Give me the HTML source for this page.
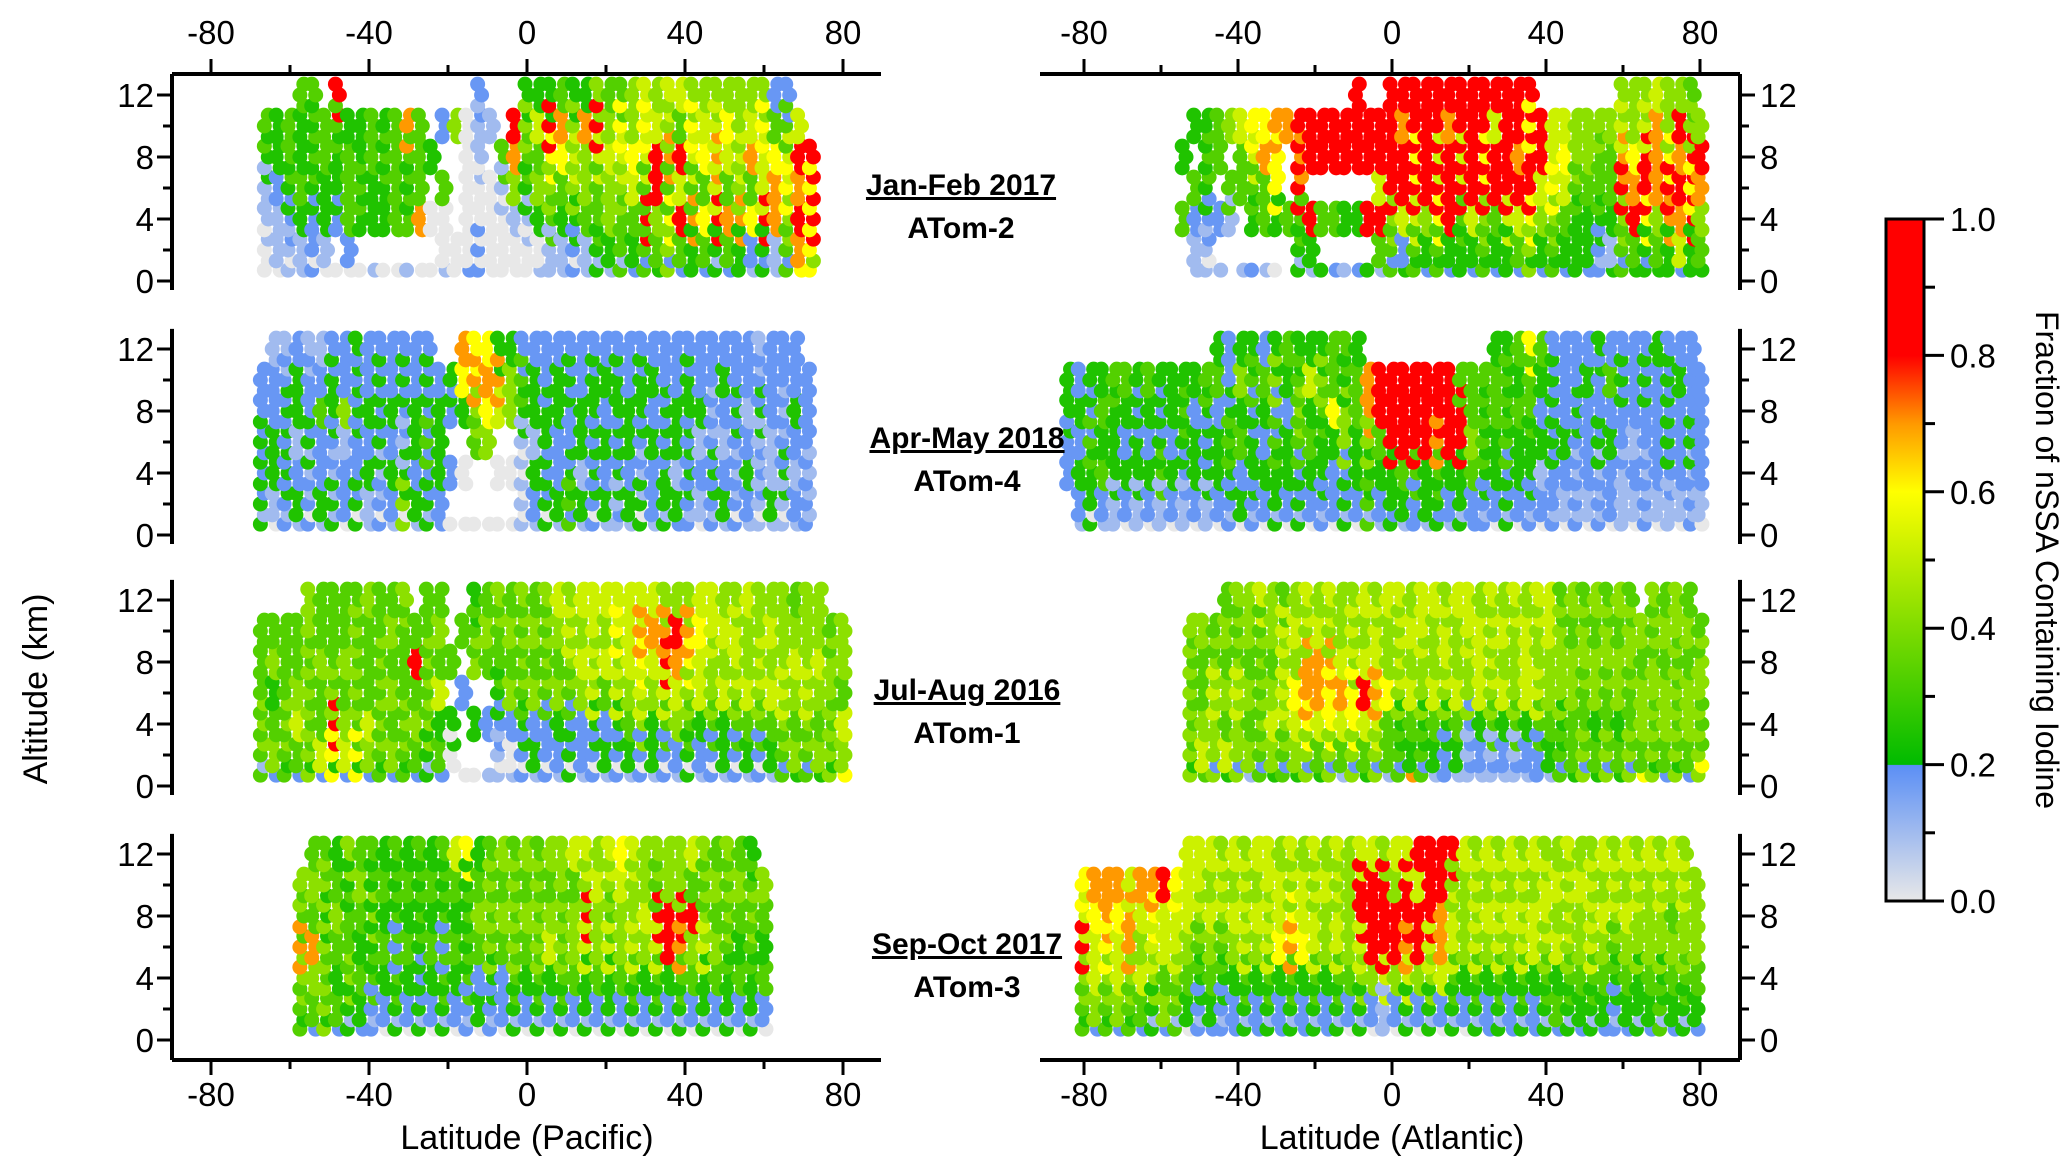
<!DOCTYPE html>
<html><head><meta charset="utf-8">
<style>
html,body{margin:0;padding:0;background:#fff;}
svg{display:block;font-family:"Liberation Sans",Arial,sans-serif;}
</style></head>
<body>
<svg id="chart" width="2067" height="1173" viewBox="0 0 2067 1173" xmlns="http://www.w3.org/2000/svg">
<defs>
<linearGradient id="cbgrad" x1="0" y1="1" x2="0" y2="0">
<stop offset="0" stop-color="#e8e8e8"/>
<stop offset="0.199" stop-color="#5b8ff5"/>
<stop offset="0.2" stop-color="#00bb00"/>
<stop offset="0.4" stop-color="#7fdc00"/>
<stop offset="0.6" stop-color="#ffff00"/>
<stop offset="0.7" stop-color="#ff9900"/>
<stop offset="0.8" stop-color="#ff0000"/>
<stop offset="1" stop-color="#ff0000"/>
</linearGradient>
</defs>
<g id="points"></g>
<g id="axes"></g>
<g id="annots">
<text x="961" y="195" text-anchor="middle" font-size="30" font-weight="bold" text-decoration="underline">Jan-Feb 2017</text>
<text x="961" y="238" text-anchor="middle" font-size="30" font-weight="bold">ATom-2</text>
<text x="967" y="448" text-anchor="middle" font-size="30" font-weight="bold" text-decoration="underline">Apr-May 2018</text>
<text x="967" y="491" text-anchor="middle" font-size="30" font-weight="bold">ATom-4</text>
<text x="967" y="700" text-anchor="middle" font-size="30" font-weight="bold" text-decoration="underline">Jul-Aug 2016</text>
<text x="967" y="743" text-anchor="middle" font-size="30" font-weight="bold">ATom-1</text>
<text x="967" y="954" text-anchor="middle" font-size="30" font-weight="bold" text-decoration="underline">Sep-Oct 2017</text>
<text x="967" y="997" text-anchor="middle" font-size="30" font-weight="bold">ATom-3</text>
</g>
<text x="0" y="0" transform="translate(47,689) rotate(-90)" text-anchor="middle" font-size="34">Altitude (km)</text>
<text x="527" y="1149" text-anchor="middle" font-size="34">Latitude (Pacific)</text>
<text x="1392" y="1149" text-anchor="middle" font-size="34">Latitude (Atlantic)</text>
<g id="colorbar">
<rect x="1886" y="219" width="38" height="682" fill="url(#cbgrad)" stroke="#000" stroke-width="3"/>
</g>
<text x="0" y="0" transform="translate(2036,560) rotate(90)" text-anchor="middle" font-size="32">Fraction of nSSA Containing Iodine</text>
</svg>
<script>
// Decoding of value codes to iodine fraction
const codeFrac = [0,0.1,0.18,0.25,0.33,0.42,0.52,0.6,0.7,0.9];
const altBins = [0,2,4,6,8,10,12];
const xTicks = [-80,-60,-40,-20,0,20,40,60,80];
const xTickLabels = ["-80","-40","0","40","80"];
const yTicks = [0,2,4,6,8,10,12];
const yTickLabels = ["0","4","8","12"];
const cbTicks = [0,0.1,0.2,0.3,0.4,0.5,0.6,0.7,0.8,0.9,1.0];
const cbTickLabels = ["0.0","0.2","0.4","0.6","0.8","1.0"];

const pacJanLat = [-66,-63,-60,-57,-54,-51,-48,-45,-42,-39,-36,-33,-30,-27,-24,-21,-18,-15,-12,-9,-6,-3,0,3,6,9,12,15,18,21,24,27,30,33,36,39,42,45,48,51,54,57,60,63,66,69,72];
const pacJanVal = ["001134.","011233.","012344.","1134334","0223434","013344.","0.23349","024443.","0.3433.","1.3344.","0.3343.","0.4444.","1.4348.","0.8444.","0.0.3..","1004.2.","00...5.","200000.","0200112","0000.1.","00014..","001589.","0013453","1035463","1145793","1134784","0235653","1145583","1344695","1355654","1445674","2346755","2494676","3459965","2574856","2496946","3384675","2474765","1396865","2484675","3385655","1274865","2396675","1188742","2457642","789896.","57979.."];
const atlJanLat = [-54,-51,-48,-45,-42,-39,-36,-33,-30,-27,-24,-21,-18,-15,-12,-9,-6,-3,0,3,6,9,12,15,18,21,24,27,30,33,36,39,42,45,48,51,54,57,60,63,66,69,72,75,78,80];
const atlJanVal = ["..4.3..","1124.3.","012343.","1.2.44.","..14.5.","1..446.","2.3467.","1.4487.","0.3778.","..4..8.","134989.","139.99.","3.4.99.","2.4.99.","1.3.99.","2.3.999","3.9.99.","149699.","2459999","3269989","3469799","2359999","3479699","2399989","3349699","2369999","3459799","2349969","3369999","2469899","3579979","235699.","345766.","234676.","333455.","233455.","123445.","313445.","2459865","3498755","2379965","3458886","3389755","2689895","3397954","345895."];
const pacAprLat = [-67,-64,-61,-58,-55,-52,-49,-46,-43,-40,-37,-34,-31,-28,-25,-22,-19,-16,-13,-10,-7,-4,-1,2,5,8,11,14,17,20,23,26,29,32,35,38,41,44,47,50,53,56,59,62,65,68,71];
const pacAprVal = ["132322.","0133221","1232321","1321332","0213221","1322421","1312332","0221522","0322323","1132322","0213232","1232322","0531232","1323322","1324232","223332.","0.2.23.","0.0.378","0..4587","0..5787","0.0.683","0.0.553","0101342","1231332","0323322","1322332","2432232","1313322","0232332","1323232","2132332","1323322","0312332","1223232","1332322","2313322","1232332","0121322","1232122","1321232","0212322","1232122","0121321","1311222","0132122","1212322","121222."];
const atlAprLat = [-84,-81,-78,-75,-72,-69,-66,-63,-60,-57,-54,-51,-48,-45,-42,-39,-36,-33,-30,-27,-24,-21,-18,-15,-12,-9,-6,-3,0,3,6,9,12,15,18,21,24,27,30,33,36,39,42,45,48,51,54,57,60,63,66,69,72,75,78,80];
const atlAprVal = ["..2233.","123232.","033423.","124343.","113334.","023234.","113323.","023234.","114323.","023233.","112343.","023323.","113234.","0233243","1234322","0324353","1233243","0232342","1334253","0233234","1324543","0234363","1233453","0223744","1325534","0233443","143588.","123499.","233999.","134999.","224999.","133999.","234899.","123999.","133994.","224544.","123434.","0233443","1324343","0233434","1233447","0213234","1223232","0123222","1212322","0122232","1213223","0223242","1112232","0121222","1212232","0122223","1123232","0122232","1213222","012222."];
const pacJulLat = [-67,-64,-61,-58,-55,-52,-49,-46,-43,-40,-37,-34,-31,-28,-25,-22,-19,-16,-13,-10,-7,-4,-1,2,5,8,11,14,17,20,23,26,29,32,35,38,41,44,47,50,53,56,59,62,65,68,71,74,77,80];
const pacJulVal = ["145444.","254354.","345444.","246544.","3545455","2644544","3795444","2654544","3745454","2564445","3454544","2545454","3454445","245494.","1354544","2436454",".03.4..","0..2.4.","0.3.543","1.2.454","0123445","1025454","0234545","1325454","0224545","1235456","0324565","1225656","0236566","1324656","0236576","1345666","0256786","1335686","0246985","1256895","0345785","1236676","0245566","1336565","0245665","1346556","0245655","1346565","2456555","3545654","2456555","3545655","354554.","756455."];
const atlJulLat = [-52,-49,-46,-43,-40,-37,-34,-31,-28,-25,-22,-19,-16,-13,-10,-7,-4,-1,2,5,8,11,14,17,20,23,26,29,32,35,38,41,44,47,50,53,56,59,62,65,68,71,74,77,80];
const atlJulVal = ["354545.","465445.","255654.","3645454","2556545","1545455","2454546","3565455","2456564","3567565","2578856","3468865","2577856","1468655","2577565","3469656","2568665","1447556","2435656","8346565","2435566","1346556","2235665","1346556","2125566","1236665","2145656","1236565","2145556","1236665","2246556","1345566","2435554","3445545","2544554","3435545","2544554","3435545","2544554","745545.","3545545","2455454","3545455","2455454","754554."];
const pacSepLat = [-57,-54,-51,-48,-45,-42,-39,-36,-33,-30,-27,-24,-21,-18,-15,-12,-9,-6,-3,0,3,6,9,12,15,18,21,24,27,30,33,36,39,42,45,48,51,54,57,60];
const pacSepVal = ["345845.","2458454","3545354","2434543","1354435","2343454","1243534","0234343","1342434","0234343","1323434","0234343","1342434","0234346","1243437","0324543","1235454","0224545","1345454","0234545","1345454","0236545","1345455","0245546","1336956","0245565","1336456","0245567","1346556","0235655","1346945","0239955","1348955","0245946","1336545","0245454","1334545","0243454","1334543","024345."];
const atlSepLat = [-80,-77,-74,-71,-68,-65,-62,-59,-56,-53,-50,-47,-44,-41,-38,-35,-32,-29,-26,-23,-20,-17,-14,-11,-8,-5,-2,1,4,7,10,13,16,19,22,25,28,31,34,37,40,43,46,49,52,55,58,61,64,67,70,73,76,79];
const atlSepVal = ["345967.","256678.","345788.","256678.","345886.","246568.","135678.","254669.","145667.","0345666","1234566","2345656","1234565","2235656","1346565","2235656","1346566","2237665","1348756","2237665","1346656","2235565","1346656","0245555","1356996","0259996","1169995","0259956","1368996","0259969","1356999","0268899","1346659","0235556","1346565","2235656","1346565","2235656","1346565","2236656","1345665","2436565","1345656","2345565","1346565","2345656","1234565","2345656","1335565","2345556","1435565","2345456","1345565","234555."];

const rowBase = [281,535,786,1040];
const kmPx = 15.5;
function xPac(lat){ return 527 + lat*158/40; }
function xAtl(lat){ return 1392 + lat*154/40; }
function yAlt(row, alt){ return rowBase[row] - alt*kmPx; }
function fracColor(v){
  const stops = [[0,[232,232,232]],[0.199,[91,143,245]],[0.2,[0,187,0]],[0.4,[127,220,0]],[0.6,[255,255,0]],[0.7,[255,153,0]],[0.8,[255,0,0]],[1,[255,0,0]]];
  for(let i=0;i<stops.length-1;i++){
    const a=stops[i],b=stops[i+1];
    if(v>=a[0]&&v<=b[0]){const t=(v-a[0])/(b[0]-a[0]||1);
      const c=a[1].map((x,k)=>Math.round(x+(b[1][k]-x)*t));return 'rgb('+c.join(',')+')';}
  }
  return 'rgb(255,0,0)';
}
const NS='http://www.w3.org/2000/svg';
const ptsG=document.getElementById('points');
function drawPanel(row, lats, vals, xf, name){
  const g=document.createElementNS(NS,'g');
  
  
  ptsG.appendChild(g);
  const offs=[-0.7,0,0.7];
  lats.forEach((lat,pi)=>{
    const s=vals[pi];
    for(let b=0;b<altBins.length;b++){
      const ch=s[b]; if(ch===undefined||ch==='.') continue;
      offs.forEach((o,k)=>{
        const alt=altBins[b]+o; if(alt<0.3||alt>12.7) return;
        let code=+ch;
        const nb = o>0 ? s[b+1] : (o<0 ? s[b-1] : undefined);
        if(nb!==undefined && nb!=='.' && (k+pi)%2===0) code=+nb;
        const c=document.createElementNS(NS,'circle');
        c.setAttribute('cx', xf(lat + ((k+pi+b)%2?0.5:-0.5)));
        c.setAttribute('cy', yAlt(row,alt));
        c.setAttribute('r', 7.5);
        c.setAttribute('fill', fracColor(codeFrac[code]));
        
        
        g.appendChild(c);
      });
    }
  });
}
drawPanel(0,pacJanLat,pacJanVal,xPac,'points-pacific-atom2');
drawPanel(0,atlJanLat,atlJanVal,xAtl,'points-atlantic-atom2');
drawPanel(1,pacAprLat,pacAprVal,xPac,'points-pacific-atom4');
drawPanel(1,atlAprLat,atlAprVal,xAtl,'points-atlantic-atom4');
drawPanel(2,pacJulLat,pacJulVal,xPac,'points-pacific-atom1');
drawPanel(2,atlJulLat,atlJulVal,xAtl,'points-atlantic-atom1');
drawPanel(3,pacSepLat,pacSepVal,xPac,'points-pacific-atom3');
drawPanel(3,atlSepLat,atlSepVal,xAtl,'points-atlantic-atom3');

const axG=document.getElementById('axes');
function line(x1,y1,x2,y2,w,name){
  const l=document.createElementNS(NS,'line');
  l.setAttribute('x1',x1);l.setAttribute('y1',y1);l.setAttribute('x2',x2);l.setAttribute('y2',y2);
  l.setAttribute('stroke','#000');l.setAttribute('stroke-width',w);
  
  
  axG.appendChild(l);
}
function text(x,y,s,anchor,name,parent){
  const t=document.createElementNS(NS,'text');
  t.setAttribute('x',x);t.setAttribute('y',y);t.setAttribute('text-anchor',anchor);
  t.setAttribute('font-size','33');t.textContent=s;
  
  
  (parent||axG).appendChild(t);
}
line(172,74,881,74,4,'top-axis-pacific');
line(172,1060,881,1060,4,'bottom-axis-pacific');
line(1040,74,1740,74,4,'top-axis-atlantic');
line(1040,1060,1740,1060,4,'bottom-axis-atlantic');
xTicks.forEach(v=>{
  const major=v%40===0, len=major?15:9;
  [[xPac,'pacific'],[xAtl,'atlantic']].forEach(([f,n])=>{
    line(f(v),74,f(v),74-len,3,'x-tick-top-'+n);
    line(f(v),1060,f(v),1060+len,3,'x-tick-bottom-'+n);
  });
});
xTickLabels.forEach(s=>{
  const v=+s;
  text(xPac(v),44,s,'middle','x-tick-label-top-pacific');
  text(xAtl(v),44,s,'middle','x-tick-label-top-atlantic');
  text(xPac(v),1106,s,'middle','x-tick-label-bottom-pacific');
  text(xAtl(v),1106,s,'middle','x-tick-label-bottom-atlantic');
});
rowBase.forEach((b,r)=>{
  const top = r===0?74:b-13.3*kmPx;
  const bot = r===3?1060:b+9;
  line(172,top,172,bot,4,'y-axis-left-row'+(r+1));
  line(1740,top,1740,bot,4,'y-axis-right-row'+(r+1));
  yTicks.forEach(v=>{
    const len=v%4===0?15:9;
    line(172,yAlt(r,v),172-len,yAlt(r,v),3,'y-tick-left');
    line(1740,yAlt(r,v),1740+len,yAlt(r,v),3,'y-tick-right');
  });
  yTickLabels.forEach(s=>{
    text(154,yAlt(r,+s)+12,s,'end','y-tick-label-left');
    text(1760,yAlt(r,+s)+12,s,'start','y-tick-label-right');
  });
});
const cbG=document.getElementById('colorbar');
function cbY(v){ return 901 - v*682; }
cbTicks.forEach((v,i)=>{
  const len=i%2===0?20:11;
  const l=document.createElementNS(NS,'line');
  l.setAttribute('x1',1924);l.setAttribute('x2',1924+len);l.setAttribute('y1',cbY(v));l.setAttribute('y2',cbY(v));
  l.setAttribute('stroke','#000');l.setAttribute('stroke-width',3);
  
  
  cbG.appendChild(l);
});
cbTickLabels.forEach(s=>{
  text(1950,cbY(+s)+12,s,'start','colorbar-tick-label',cbG);
});
</script>
</body></html>
